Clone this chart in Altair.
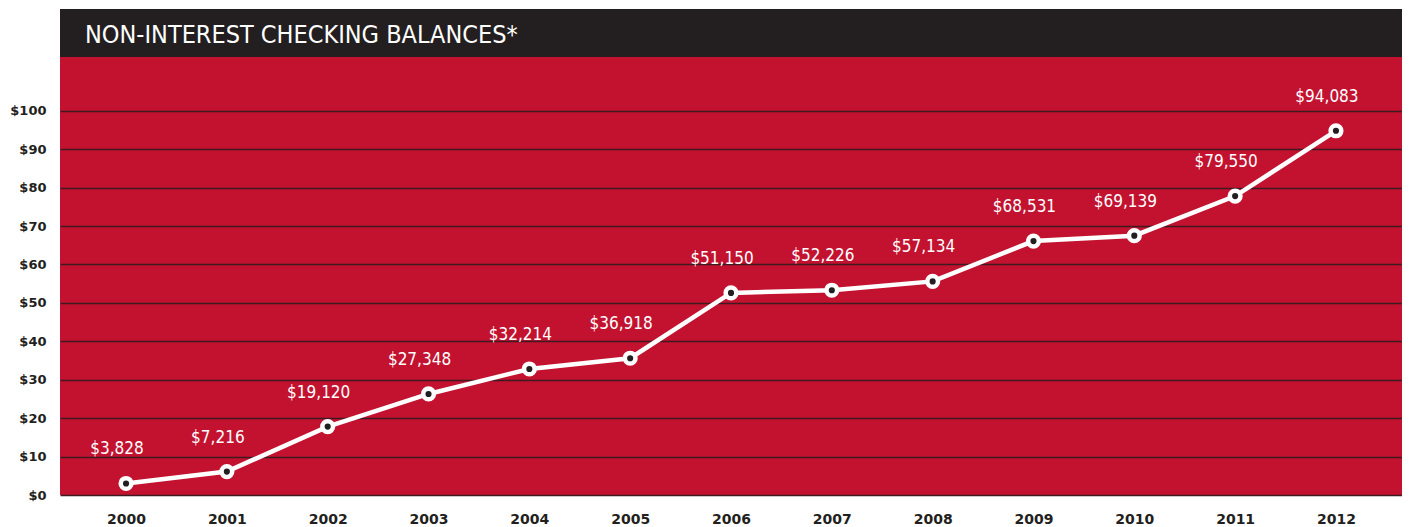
import altair as alt
import pandas as pd

years = ["2000", "2001", "2002", "2003", "2004", "2005", "2006",
         "2007", "2008", "2009", "2010", "2011", "2012"]
values = [3.0, 6.1, 17.8, 26.3, 32.8, 35.6, 52.6, 53.3, 55.6, 66.1, 67.5, 77.8, 94.8]
labels = ["$3,828", "$7,216", "$19,120", "$27,348", "$32,214", "$36,918", "$51,150",
          "$52,226", "$57,134", "$68,531", "$69,139", "$79,550", "$94,083"]
y_ticks = [0, 10, 20, 30, 40, 50, 60, 70, 80, 90, 100]
TITLE = "NON-INTEREST CHECKING BALANCES*"

RED = "#C3122F"
DARK = "#231F20"
GRID = "#3E1A22"
W, H = 1342, 486
COND = "DejaVu Sans Condensed, Roboto, sans-serif"

df = pd.DataFrame({"year": years, "value": values, "label": labels})

x = alt.X("year:O",
          scale=alt.Scale(type="point", padding=0.655),
          axis=alt.Axis(title=None, labelAngle=0, labelFont="DejaVu Sans",
                        labelFontWeight="bold", labelFontSize=14, labelColor=DARK,
                        labelPadding=17, ticks=False, domain=False, grid=False))
y = alt.Y("value:Q",
          scale=alt.Scale(domain=[0, 126.5], nice=False, zero=True),
          axis=alt.Axis(title=None, values=y_ticks, labelExpr="'$' + datum.value",
                        labelFont="DejaVu Sans", labelFontWeight="bold",
                        labelFontSize=13, labelColor=DARK, labelPadding=14,
                        ticks=False, domain=False, grid=True, gridColor=GRID,
                        gridWidth=1.5, gridOpacity=1))

base = alt.Chart(df)
line = base.mark_line(color="white", strokeWidth=4.5).encode(x=x, y=y)
outer = base.mark_point(filled=True, shape="circle", size=230, color="white",
                        opacity=1).encode(x=x, y=y)
inner = base.mark_point(filled=True, shape="circle", size=38, color=DARK,
                        opacity=1).encode(x=x, y=y)
text = base.mark_text(color="white", font=COND, fontSize=17,
                      dy=-34, dx=-9, baseline="middle").encode(x=x, y=y, text="label:N")

one = pd.DataFrame({"a": [0]})
header = alt.Chart(one).mark_rect(color=DARK).encode(
    x=alt.value(0), x2=alt.value(W), y=alt.value(0), y2=alt.value(48))
title = alt.Chart(one).mark_text(text=TITLE, color="white", font=COND,
                                 fontSize=25, align="left", baseline="middle").encode(
    x=alt.value(25), y=alt.value(26))

chart = alt.layer(line, outer, inner, text, header, title).properties(
    width=W, height=H,
    autosize="none",
    padding={"left": 52, "top": 1, "right": 0, "bottom": 31},
    background="white",
).configure_view(fill=RED, stroke=None)

chart.save("out.html", embed_options={"renderer": "svg", "actions": False})
